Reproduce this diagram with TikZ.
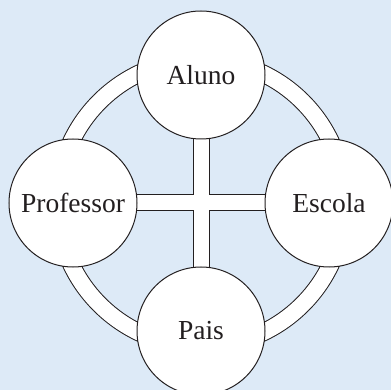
\documentclass[tikz,border=0pt]{standalone}
\usepackage{fontspec}
\setmainfont{Liberation Serif}
\usetikzlibrary{calc}
\definecolor{bgblue}{RGB}{221,234,247}
\definecolor{ink}{RGB}{35,31,32}
\pgfdeclarelayer{back}
\pgfdeclarelayer{bands}
\pgfsetlayers{back,bands,main}
\begin{document}
\begin{tikzpicture}[x=1pt,y=-1pt,
  circ/.style={circle,draw=ink,line width=1pt,fill=white,minimum size=128pt,inner sep=0pt,
    font=\fontsize{27.5}{30}\selectfont,text=ink},
  ringout/.style={draw=ink,line width=18pt},
  ringin/.style={draw=white,line width=16pt}]
\useasboundingbox (0,0) rectangle (391,390);
\node[circ] (aluno) at (201,75) {Aluno};
\node[circ] (prof) at (73,203) {Professor};
\node[circ] (escola) at (329,203) {Escola};
\node[circ] (pais) at (201,331) {Pais};
\coordinate (c) at (aluno |- prof);
\begin{pgfonlayer}{back}
  \fill[bgblue] (0,0) rectangle (391,390);
\end{pgfonlayer}
\begin{pgfonlayer}{bands}
  \draw[ringout] (c) circle[radius=143.5];
  \draw[ringin] (c) circle[radius=143.5];
  \fill[ink] ($(aluno.center)+(-8.5,0)$) rectangle ($(pais.center)+(8.5,0)$);
  \fill[ink] ($(prof.center)+(0,-8.5)$) rectangle ($(escola.center)+(0,8.5)$);
  \fill[white] ($(aluno.center)+(-7.5,0)$) rectangle ($(pais.center)+(7.5,0)$);
  \fill[white] ($(prof.center)+(0,-7.5)$) rectangle ($(escola.center)+(0,7.5)$);
\end{pgfonlayer}
\end{tikzpicture}
\end{document}
